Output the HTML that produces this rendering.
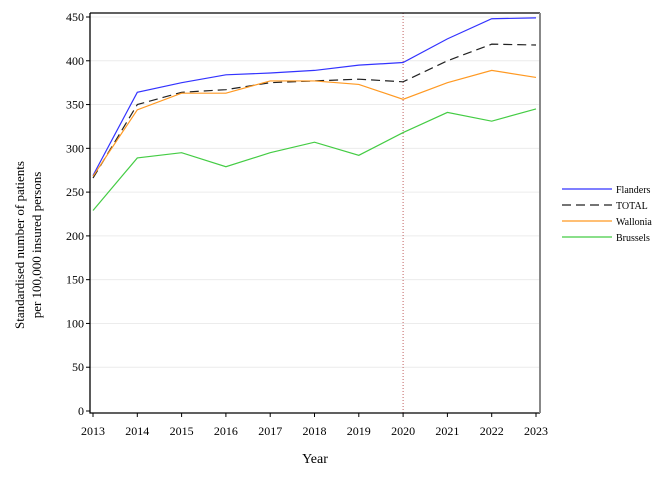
<!DOCTYPE html>
<html><head><meta charset="utf-8"><style>
body{margin:0;background:#fff;font-family:"Liberation Serif",serif;}
svg text{font-family:"Liberation Serif",serif;fill:#000;}
</style></head><body>
<svg id="c" width="672" height="480"></svg>
<script>
const years=[2013,2014,2015,2016,2017,2018,2019,2020,2021,2022,2023];
const flanders=[269,364,375,384,386,389,395,398,425,448,449];
const total=[266,350,364,367,375,377,379,376,400,419,418];
const wallonia=[268,344,363,363,377,377,373,356,375,389,381];
const brussels=[229,289,295,279,295,307,292,318,341,331,345];
const yTicks=[0,50,100,150,200,250,300,350,400,450];
const refYear=2020;
const NS="http://www.w3.org/2000/svg";
const svg=document.getElementById('c');
const L=90,R=540,T=13,B=413;
const x=v=>93+(v-2013)*(536-93)/10;
const y=v=>411-v*(411-17)/450;
function el(t,a,p){const e=document.createElementNS(NS,t);for(const k in a)e.setAttribute(k,a[k]);(p||svg).appendChild(e);return e;}
yTicks.forEach(t=>{
 if(t>0){const g=el('line',{x1:L,x2:R,y1:y(t),y2:y(t),stroke:'#ececec'});
 
 }
 const tk=el('line',{x1:L-4,x2:L,y1:y(t),y2:y(t),stroke:'#000'});
 
 
 const tx=el('text',{x:L-6,y:y(t)+4,'text-anchor':'end','font-size':12});tx.textContent=t;
 
 
});
years.forEach(v=>{
 const tk=el('line',{x1:x(v),x2:x(v),y1:B,y2:B+4,stroke:'#000'});
 
 
 const tx=el('text',{x:x(v),y:B+22,'text-anchor':'middle','font-size':12});tx.textContent=v;
 
 
});
const rl=el('line',{x1:x(refYear),x2:x(refYear),y1:T,y2:B,stroke:'#c06060','stroke-dasharray':'1,2'});


const series=[['flanders',flanders,'#3333ff',''],['total',total,'#222','9,5'],['wallonia',wallonia,'#ff9922',''],['brussels',brussels,'#44cc44','']];
series.forEach(s=>{
 const p=el('polyline',{points:s[1].map((v,i)=>x(years[i])+','+y(v)).join(' '),fill:'none',stroke:s[2],'stroke-width':1.2,'stroke-dasharray':s[3]});
 
 
});
const ax=el('path',{d:`M${L},${T}H${R}M${L},${T}V${B}H${R}`,stroke:'#000',fill:'none','stroke-width':1.3});


const rb=el('line',{x1:R,x2:R,y1:T,y2:B,stroke:'#888','stroke-width':2});


const xt=el('text',{x:315,y:463,'text-anchor':'middle','font-size':14});xt.textContent='Year';


const yt=el('text',{transform:'translate(24,245) rotate(-90)','text-anchor':'middle','font-size':13});


const t1=el('tspan',{x:0,dy:0},yt);t1.textContent='Standardised number of patients';
const t2=el('tspan',{x:0,dy:17},yt);t2.textContent='per 100,000 insured persons';
const names=['Flanders','TOTAL','Wallonia','Brussels'];
series.forEach((s,i)=>{
 const yy=189+i*16;
 const g=el('g',{});
 
 
 el('line',{x1:562,x2:612,y1:yy,y2:yy,stroke:s[2],'stroke-width':1.2,'stroke-dasharray':s[3]},g);
 const t=el('text',{x:616,y:yy+4,'font-size':10},g);t.textContent=names[i];
});
</script>
</body></html>
